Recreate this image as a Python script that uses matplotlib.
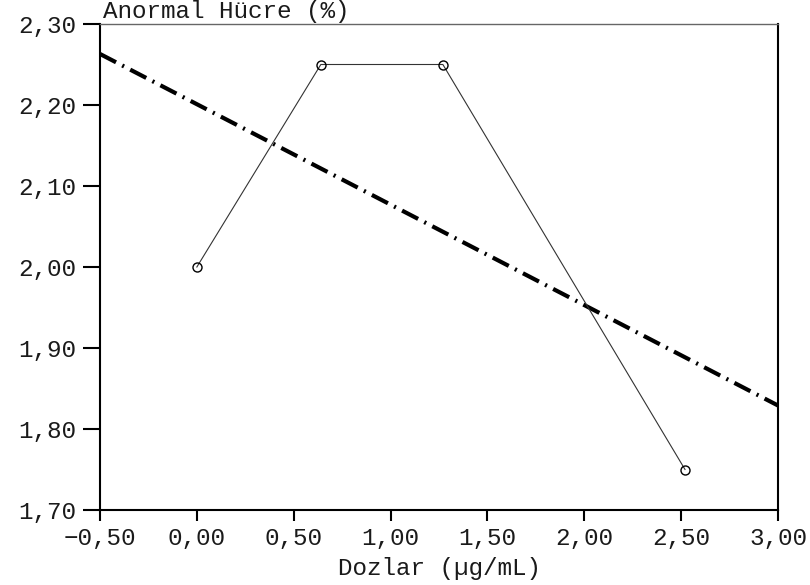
import matplotlib
matplotlib.use("Agg")
import matplotlib.pyplot as plt
from matplotlib.ticker import FixedLocator, FuncFormatter

# Data
doses = [0.0, 0.64, 1.27, 2.52]
abnormal_pct = [2.00, 2.25, 2.25, 1.75]
trend_x = [-0.50, 3.00]
trend_y = [2.263, 1.829]
x_ticks = [-0.5, 0.0, 0.5, 1.0, 1.5, 2.0, 2.5, 3.0]
y_ticks = [1.70, 1.80, 1.90, 2.00, 2.10, 2.20, 2.30]
x_label = "Dozlar (µg/mL)"
y_label = "Anormal Hücre (%)"

plt.rcParams['font.family'] = ['Liberation Mono', 'DejaVu Sans Mono']
plt.rcParams['lines.scale_dashes'] = False

FS = 17.5
TXT = '#1a1a1a'

fig = plt.figure(figsize=(8.1, 5.85), dpi=100)
ax = fig.add_axes([100/810, 1-510/585, 678/810, 486/585])

ax.plot(trend_x, trend_y, color='black', linewidth=3.0,
        dashes=(13, 5, 1.5, 5), solid_capstyle='butt', dash_capstyle='butt')
ax.plot(doses, abnormal_pct, color='#333333', linewidth=0.8,
        marker='o', markersize=6.5, markerfacecolor='none',
        markeredgecolor='black', markeredgewidth=1.0)

ax.set_xlim(-0.5, 3.0)
ax.set_ylim(1.70, 2.30)
ax.xaxis.set_major_locator(FixedLocator(x_ticks))
ax.yaxis.set_major_locator(FixedLocator(y_ticks))
fmt = FuncFormatter(lambda v, p: f"{v:.2f}".replace('.', ',').replace('-', '\u2212'))
ax.xaxis.set_major_formatter(fmt)
ax.yaxis.set_major_formatter(fmt)

ax.tick_params(axis='x', direction='out', length=8, width=1.5,
               labelsize=FS, pad=4, colors='black', labelcolor=TXT)
ax.tick_params(axis='y', direction='out', length=12, width=1.5,
               labelsize=FS, pad=5, colors='black', labelcolor=TXT)
for s in ['left', 'right', 'bottom']:
    ax.spines[s].set_linewidth(1.5)
    ax.spines[s].set_color('black')
ax.spines['top'].set_linewidth(1.0)
ax.spines['top'].set_color('#666666')

ax.set_xlabel(x_label, fontsize=FS, labelpad=5, color=TXT)
ax.text(0.004, 1.002, y_label, transform=ax.transAxes, fontsize=FS,
        ha='left', va='bottom', color=TXT)

fig.savefig("out.png", dpi=100)
